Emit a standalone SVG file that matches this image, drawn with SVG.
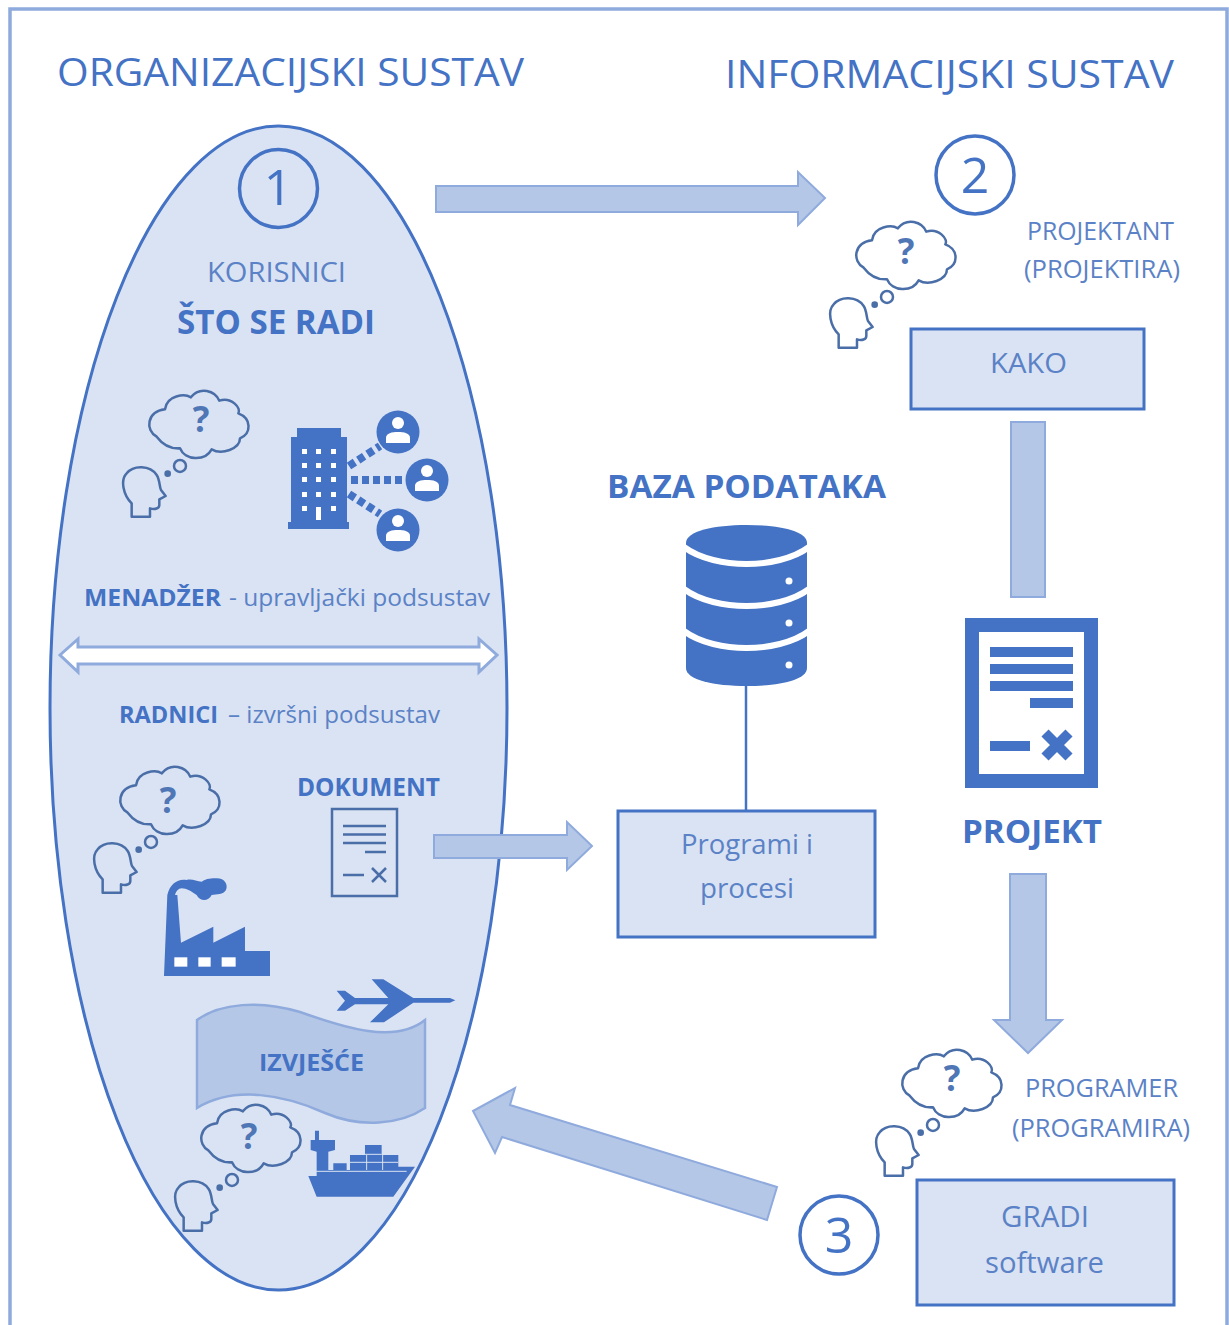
<svg xmlns="http://www.w3.org/2000/svg" width="1229" height="1325" viewBox="0 0 1229 1325">
<style>
text{font-family:"Open Sans","Noto Sans","Liberation Sans",sans-serif;fill:#4472c4}
.lt{fill:#5b82c6;font-weight:500}
.b{font-weight:700}
.box{fill:#dae3f3;stroke:#4472c4;stroke-width:3}
.arr{fill:#b4c7e7;stroke:#8faadc;stroke-width:2}
.num{fill:#fff;stroke:#4472c4;stroke-width:3.500}
.ic{fill:#4472c4}
.w{fill:#fff}
.q{font-weight:700;font-size:35px;fill:#4f76b5}
.th{fill:none;stroke:#4a6ea8;stroke-width:7.500;stroke-linejoin:round}
</style>
<defs>
<g id="thinker" transform="translate(100,380) scale(.3333)">
<path class="th" d="M170,170C135,150 140,95 195,88C200,45 255,40 272,52C300,18 345,32 358,62C395,50 425,85 415,100C455,115 455,160 420,175C420,207 365,225 335,208C315,245 255,242 240,205C205,207 185,190 170,170Z"/>
<circle class="th" cx="240" cy="258" r="18"/>
<circle cx="203" cy="281" r="10" fill="#4a6ea8"/>
<path class="th" d="M95,410L95,370C70,345 60,300 80,280C100,255 150,255 170,285C180,300 178,320 183,330L197,348L178,358L178,375C178,385 165,390 150,385L150,410Z"/>
</g>
<g id="person">
<circle r="21.500" class="ic"/>
<circle cy="-9" r="6" class="w"/>
<path class="w" d="M-12,11L-12,6C-12,1 -6,0 0,0C6,0 12,1 12,6L12,11Z"/>
</g>
</defs>

<rect id="frame" x="10" y="9" width="1217" height="1330" fill="#fff" stroke="#8faadc" stroke-width="3.500"/>

<text x="57" y="86" font-size="39" textLength="467" lengthAdjust="spacingAndGlyphs">ORGANIZACIJSKI SUSTAV</text>
<text x="725" y="88" font-size="39" textLength="449" lengthAdjust="spacingAndGlyphs">INFORMACIJSKI SUSTAV</text>

<g id="organizacijski-sustav">
<ellipse cx="278.500" cy="708" rx="228.500" ry="582" fill="#dae3f3" stroke="#4472c4" stroke-width="3"/>
</g>

<g id="connectors">
<path class="arr" d="M436,186H798V172L825,198L798,225V212H436Z"/>
<rect class="arr" x="1011" y="422" width="34" height="175"/>
<path class="arr" d="M1010,874H1046V1020H1062L1028,1053L994,1020H1010Z"/>
<path class="arr" d="M434,835H567V822L592,846L567,870V858H434Z"/>
<path class="arr" d="M777,1187L510,1105L515,1088L473,1111L495,1153L502,1137L767,1220Z"/>
<line x1="746" y1="686" x2="746" y2="811" stroke="#4472c4" stroke-width="2.500"/>
<path fill="#fff" stroke="#8faadc" stroke-width="3" d="M60,655L78,639V647H479V639L497,655L479,672V664H78V672Z"/>
</g>

<g id="n1">
<circle cx="278.500" cy="188.500" r="39" fill="none" stroke="#4472c4" stroke-width="3.500"/>
<text x="278" y="205" font-size="50" text-anchor="middle">1</text>
</g>
<text class="lt" x="207" y="282" font-size="27" textLength="139" lengthAdjust="spacingAndGlyphs">KORISNICI</text>
<text class="b" x="177" y="334" font-size="34" textLength="198" lengthAdjust="spacingAndGlyphs">ŠTO SE RADI</text>

<g id="thinker1"><use href="#thinker"/><text class="q" x="201" y="432" text-anchor="middle">?</text></g>

<g id="building">
<path class="ic" d="M297,428H341V437H347V522H349V529H288V522H291V437H297Z"/>
<g class="w">
<rect x="302" y="449" width="5" height="5"/><rect x="316" y="449" width="5" height="5"/><rect x="331" y="449" width="5" height="5"/>
<rect x="302" y="463" width="5" height="5"/><rect x="316" y="463" width="5" height="5"/><rect x="331" y="463" width="5" height="5"/>
<rect x="302" y="477" width="5" height="5"/><rect x="316" y="477" width="5" height="5"/><rect x="331" y="477" width="5" height="5"/>
<rect x="302" y="492" width="5" height="5"/><rect x="316" y="492" width="5" height="5"/><rect x="331" y="492" width="5" height="5"/>
<rect x="302" y="506" width="5" height="5"/><rect x="316" y="507" width="5" height="13"/><rect x="331" y="506" width="5" height="5"/>
</g>
<g stroke="#4472c4" stroke-width="8" stroke-dasharray="7 4" fill="none">
<line x1="349" y1="466" x2="380" y2="446"/>
<line x1="351" y1="480" x2="407" y2="480"/>
<line x1="349" y1="494" x2="380" y2="514"/>
</g>
<use href="#person" x="398" y="432"/>
<use href="#person" x="427" y="480"/>
<use href="#person" x="398" y="530"/>
</g>

<text class="b" x="84" y="606" font-size="24" textLength="137" lengthAdjust="spacingAndGlyphs">MENADŽER</text>
<text class="lt" x="229" y="606" font-size="24" textLength="261" lengthAdjust="spacingAndGlyphs">- upravljački podsustav</text>
<text class="b" x="119" y="723" font-size="23" textLength="99" lengthAdjust="spacingAndGlyphs">RADNICI</text>
<text class="lt" x="228" y="723" font-size="23" textLength="212" lengthAdjust="spacingAndGlyphs">– izvršni podsustav</text>

<g id="thinker3"><use href="#thinker" transform="translate(-29,376)"/><text class="q" x="168" y="813" text-anchor="middle">?</text></g>

<g id="dokument">
<text class="b" x="297" y="796" font-size="25" textLength="143" lengthAdjust="spacingAndGlyphs">DOKUMENT</text>
<rect x="332" y="809" width="65" height="87" fill="none" stroke="#4a6ea8" stroke-width="2.500"/>
<path fill="none" stroke="#4a6ea8" stroke-width="2.500" d="M343,826H386M343,834.500H386M343,843H386M365,852H386M343,875H364M372,868L386,882M386,868L372,882"/>
</g>

<g id="factory" transform="translate(80,750) scale(.3333)">
<path class="ic" d="M252,678L262,435H292L303,578L400,530V578L495,530V603H570V678Z"/>
<path class="ic" d="M262,435C270,400 295,385 320,390C335,385 350,395 365,395C380,385 395,385 410,385C435,385 445,405 438,420C430,435 410,432 395,435C385,455 360,455 350,435C335,425 320,415 305,415C295,415 288,425 285,435Z"/>
<g class="w"><rect x="283" y="622" width="39" height="28"/><rect x="355" y="622" width="37" height="28"/><rect x="425" y="622" width="42" height="28"/></g>
</g>

<g id="plane" transform="translate(160,970) scale(.3333)">
<path class="ic" d="M530,62H555L585,84H685L635,28H670L760,84H870L886,91L870,98H760L672,157H630L685,103H585L555,122H530L555,92Z"/>
</g>

<g id="izvjesce">
<path fill="#b4c7e7" stroke="#8faadc" stroke-width="2.500" d="M197,1020C220,1003 260,1000 300,1012C345,1028 395,1044 425,1020V1108C400,1125 360,1128 325,1113C285,1095 235,1085 197,1108Z"/>
<text class="b" x="259" y="1071" font-size="24" textLength="105" lengthAdjust="spacingAndGlyphs">IZVJEŠĆE</text>
</g>

<g id="thinker4"><use href="#thinker" transform="translate(52,714)"/><text class="q" x="249" y="1149" text-anchor="middle">?</text></g>

<g id="ship" transform="translate(160,970) scale(.3333)">
<path class="ic" d="M445,618H470V545L452,540V510H465V482H477V510H525V540L505,545V600H520V580H560V600H570V555H615V525H665V555H715V590H765L700,680H470Z"/>
<path stroke="#dae3f3" stroke-width="3" fill="none" d="M570,577H715M615,553H665M620,555V600M668,555V600M445,604H740"/>
</g>

<g id="n2">
<circle class="num" cx="975" cy="175" r="39"/>
<text x="975" y="193" font-size="50" text-anchor="middle">2</text>
</g>
<g id="thinker2"><use href="#thinker" transform="translate(707,-169)"/><text class="q" x="906" y="264" text-anchor="middle">?</text></g>
<g id="projektant">
<text class="lt" x="1027" y="240" font-size="25" textLength="147" lengthAdjust="spacingAndGlyphs">PROJEKTANT</text>
<text class="lt" x="1024" y="278" font-size="25" textLength="156" lengthAdjust="spacingAndGlyphs">(PROJEKTIRA)</text>
</g>
<g id="kako">
<rect class="box" x="911" y="329" width="233" height="80"/>
<text class="lt" x="990" y="373" font-size="28" textLength="77" lengthAdjust="spacingAndGlyphs">KAKO</text>
</g>

<g id="baza">
<text class="b" x="607" y="498" font-size="33" textLength="279" lengthAdjust="spacingAndGlyphs">BAZA PODATAKA</text>
<path class="ic" d="M686,543C686,531 714,525 746.500,525C779,525 807,531 807,543V668C807,680 779,686 746.500,686C714,686 686,680 686,668Z"/>
<g fill="none" stroke="#fff" stroke-width="6">
<path d="M684,547C700,559 725,564 746.500,564C768,564 793,559 809,547"/>
<path d="M684,589C700,601 725,606 746.500,606C768,606 793,601 809,589"/>
<path d="M684,631C700,643 725,648 746.500,648C768,648 793,643 809,631"/>
</g>
<circle class="w" cx="789" cy="581" r="3.500"/><circle class="w" cx="789" cy="623" r="3.500"/><circle class="w" cx="789" cy="665" r="3.500"/>
</g>

<g id="programi">
<rect class="box" x="618" y="811" width="257" height="126"/>
<text class="lt" x="681" y="854" font-size="28" textLength="132" lengthAdjust="spacingAndGlyphs">Programi i</text>
<text class="lt" x="700" y="898" font-size="28" textLength="94" lengthAdjust="spacingAndGlyphs">procesi</text>
</g>

<g id="projekt">
<rect x="972" y="625" width="119" height="156" fill="#fff" stroke="#4472c4" stroke-width="14"/>
<path class="ic" d="M990,647H1073V657H990ZM990,664H1073V674H990ZM990,681H1073V691H990ZM1030,698H1073V708H1030ZM990,741H1030V751H990Z"/>
<path stroke="#4472c4" stroke-width="10" d="M1045,733L1069,757M1069,733L1045,757"/>
<text class="b" x="962" y="843" font-size="32" textLength="140" lengthAdjust="spacingAndGlyphs">PROJEKT</text>
</g>

<g id="thinker5"><use href="#thinker" transform="translate(753,659)"/><text class="q" x="952" y="1091" text-anchor="middle">?</text></g>
<g id="programer">
<text class="lt" x="1025" y="1097" font-size="25" textLength="153" lengthAdjust="spacingAndGlyphs">PROGRAMER</text>
<text class="lt" x="1012" y="1137" font-size="25" textLength="178" lengthAdjust="spacingAndGlyphs">(PROGRAMIRA)</text>
</g>
<g id="n3">
<circle class="num" cx="839" cy="1235" r="39"/>
<text x="839" y="1253" font-size="50" text-anchor="middle">3</text>
</g>
<g id="gradi">
<rect class="box" x="917" y="1180" width="257" height="125"/>
<text class="lt" x="1001" y="1227" font-size="30" textLength="88" lengthAdjust="spacingAndGlyphs">GRADI</text>
<text class="lt" x="985" y="1273" font-size="30" textLength="119" lengthAdjust="spacingAndGlyphs">software</text>
</g>
</svg>
